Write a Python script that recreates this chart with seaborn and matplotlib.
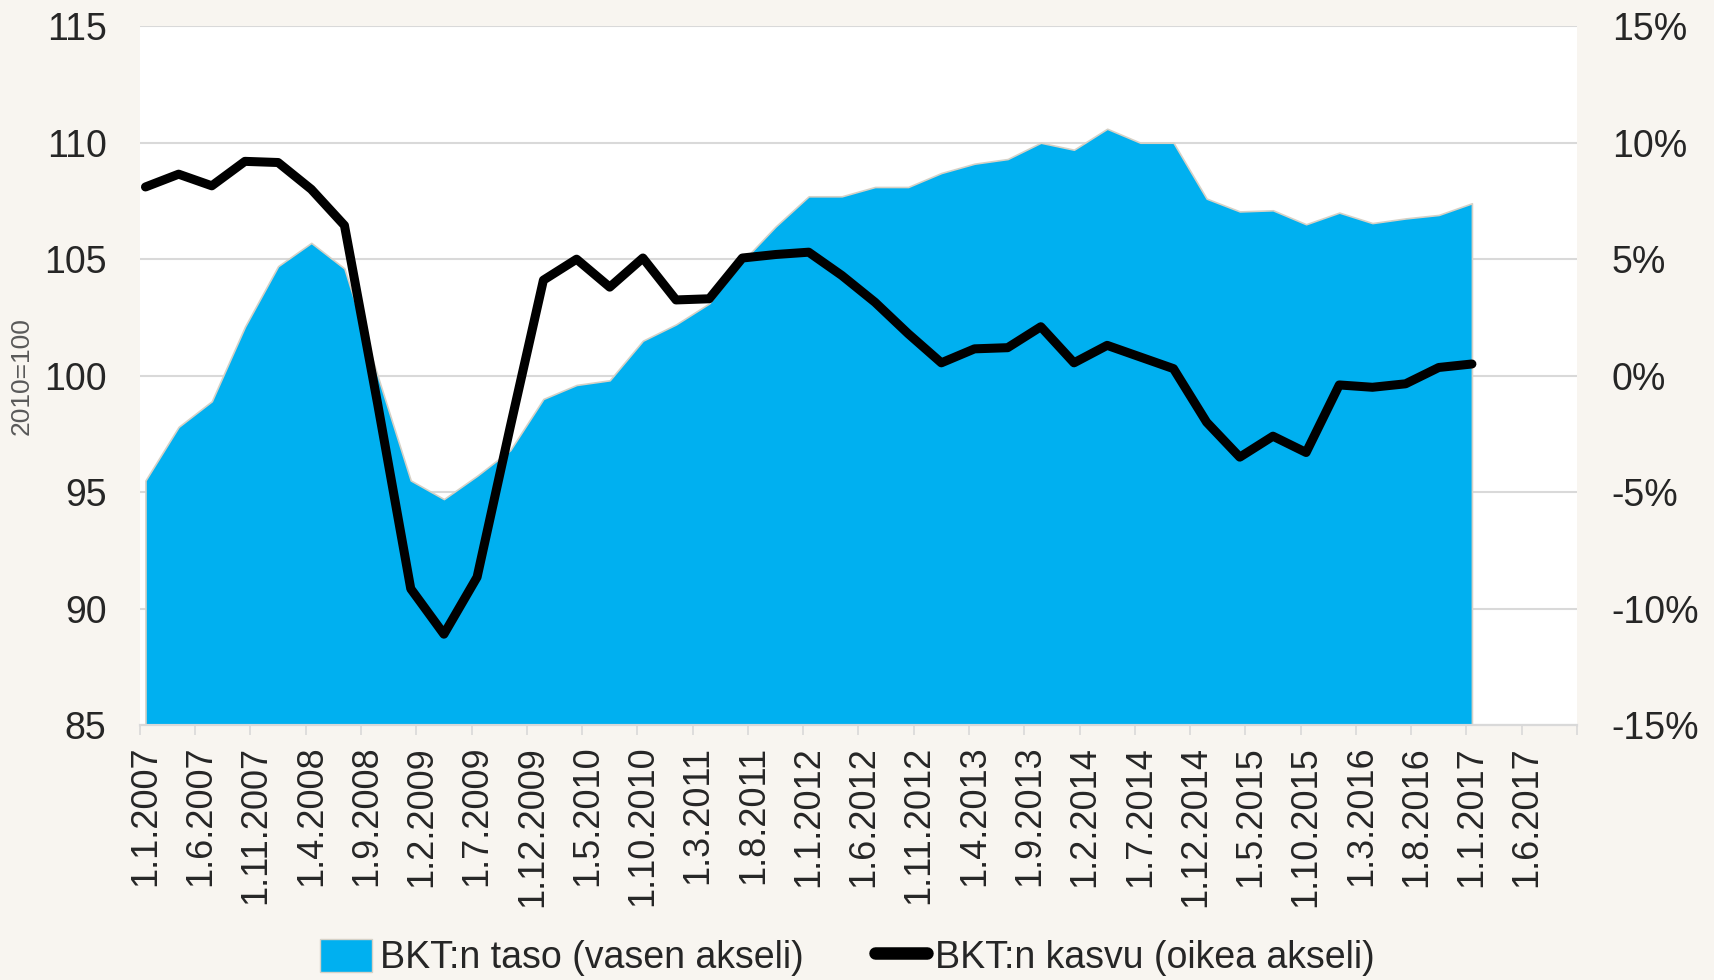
import pandas as pd
import seaborn as sns
import matplotlib.pyplot as plt
from matplotlib.patches import Patch
from matplotlib.lines import Line2D
from matplotlib.ticker import FixedLocator, FuncFormatter

# quarterly observations, Q1 2007 .. Q1 2017
quarters = pd.date_range("2007-01-01", "2017-01-01", freq="QS")

gdp_level = [
    95.5, 97.8, 98.9, 102.1, 104.7, 105.7, 104.6, 100.0,
    95.5, 94.7, 95.7, 96.8, 99.0, 99.6, 99.8, 101.5,
    102.2, 103.1, 104.9, 106.4, 107.7, 107.7, 108.1, 108.1,
    108.7, 109.1, 109.3, 110.0, 109.7, 110.6, 110.0, 110.0,
    107.6, 107.05, 107.1, 106.5, 107.0, 106.55, 106.75, 106.9,
    107.4,
]

gdp_growth = [
    8.1, 8.65, 8.15, 9.2, 9.15, 8.0, 6.45, -1.2,
    -9.15, -11.1, -8.65, -2.2, 4.1, 5.0, 3.8, 5.05,
    3.25, 3.3, 5.05, 5.2, 5.3, 4.3, 3.15, 1.8,
    0.55, 1.15, 1.2, 2.1, 0.55, 1.3, 0.8, 0.3,
    -2.0, -3.5, -2.6, -3.3, -0.4, -0.5, -0.35, 0.35,
    0.5,
]

tick_labels = [
    "1.1.2007", "1.6.2007", "1.11.2007", "1.4.2008", "1.9.2008", "1.2.2009",
    "1.7.2009", "1.12.2009", "1.5.2010", "1.10.2010", "1.3.2011", "1.8.2011",
    "1.1.2012", "1.6.2012", "1.11.2012", "1.4.2013", "1.9.2013", "1.2.2014",
    "1.7.2014", "1.12.2014", "1.5.2015", "1.10.2015", "1.3.2016", "1.8.2016",
    "1.1.2017", "1.6.2017",
]

BG = "#F8F5F0"
BLUE = "#00B0F0"
GRID = "#D9D9D9"

sns.set_style("white")
plt.rcParams["font.family"] = ["Liberation Sans", "DejaVu Sans"]

# month index from Jan 2007, points sit in the middle of their month
months = (quarters.year - 2007) * 12 + (quarters.month - 1)
df = pd.DataFrame({"x": months + 0.5, "level": gdp_level, "growth": gdp_growth})

fig = plt.figure(figsize=(17.15, 9.8), dpi=100, facecolor=BG)
ax = fig.add_axes([0.0816, 0.2602, 0.9195 - 0.0816, 0.9732 - 0.2602])
ax.set_facecolor("white")

# --- level as area (left axis) ---
ax.fill_between(df["x"], df["level"], 85, color=BLUE, edgecolor="#D6D1C6",
                linewidth=1.2, zorder=2)
ax.set_ylim(85, 115)
ax.set_yticks(range(85, 116, 5))
ax.grid(axis="y", color=GRID, linewidth=1.5, zorder=0)
ax.set_axisbelow(True)
ax.set_xlim(0, 130)

# --- growth as line (right axis) ---
ax2 = ax.twinx()
sns.lineplot(data=df, x="x", y="growth", ax=ax2, color="black", linewidth=6.5,
             solid_capstyle="round", solid_joinstyle="round", zorder=5)
ax2.set_ylim(-15, 15)
ax2.set_yticks(range(-15, 16, 5))
ax2.yaxis.set_major_formatter(FuncFormatter(lambda v, p: f"{v:.0f}%"))
ax2.set_ylabel("")
ax2.set_xlabel("")

# x axis: marks at 5-month boundaries, labels in the month centres
ax.xaxis.set_major_locator(FixedLocator([5 * k + 0.5 for k in range(len(tick_labels))]))
ax.set_xticklabels(tick_labels, rotation=90, fontsize=26)
ax.xaxis.set_minor_locator(FixedLocator(range(0, 131, 5)))
ax.tick_params(axis="x", which="major", length=0, pad=15)
ax.tick_params(axis="x", which="minor", length=7, width=1.2, color=GRID,
               direction="out", bottom=True)
ax.tick_params(axis="y", length=0, pad=24, labelsize=27)
ax2.tick_params(axis="y", length=0, pad=25, labelsize=27)
ax2.tick_params(axis="x", length=0)

for a in (ax, ax2):
    for s in ("left", "right", "top"):
        a.spines[s].set_visible(False)
    a.spines["bottom"].set_color(GRID)
    a.spines["bottom"].set_linewidth(1.5)

ax.set_ylabel("2010=100", fontsize=19, color="#595959", labelpad=0)
ax.yaxis.set_label_coords(-0.074, 0.5)
ax.set_xlabel("")

handles = [
    Patch(facecolor=BLUE, edgecolor="#D6D1C6", label="BKT:n taso (vasen akseli)"),
    Line2D([0], [0], color="black", linewidth=9, solid_capstyle="round",
           label="BKT:n kasvu (oikea akseli)"),
]
fig.legend(handles=handles, loc="center", bbox_to_anchor=(0.494, 0.023), ncol=2,
           frameon=False, fontsize=27, handlelength=1.4, handleheight=1.0,
           handletextpad=0.2, columnspacing=1.9)

fig.savefig("out.png", dpi=100, facecolor=BG)
